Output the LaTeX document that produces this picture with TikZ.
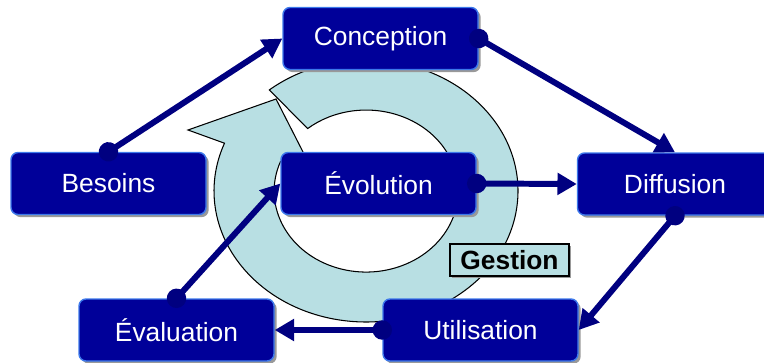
\documentclass[tikz,border=0pt]{standalone}
\usepackage{fontspec}
\setmainfont{Liberation Sans}
\usetikzlibrary{arrows.meta,shadows}

\definecolor{boite}{RGB}{0,0,153}
\definecolor{bord}{RGB}{60,120,235}
\definecolor{marine}{RGB}{0,0,128}
\definecolor{anneau}{RGB}{184,223,227}

\tikzset{
  etape/.style={rectangle, rounded corners=4pt, fill=boite, draw=bord, line width=0.8pt,
    minimum width=3.9cm, minimum height=1.24cm, inner sep=0pt, text=white,
    font=\fontsize{15pt}{18pt}\selectfont,
    drop shadow={shadow xshift=1.5pt, shadow yshift=-1.5pt, fill=black!40, opacity=1}},
  fleche/.style={draw=marine, line width=3.4pt, shorten <=-5.5pt,
    {Circle[length=11pt]}-{Triangle[length=11pt,width=12pt]}},
  gestion/.style={rectangle, fill=anneau, draw=black, line width=0.7pt,
    minimum width=2.38cm, minimum height=0.64cm, inner sep=0pt,
    font=\fontsize{15pt}{18pt}\selectfont\bfseries,
    drop shadow={shadow xshift=1pt, shadow yshift=-1pt, fill=black!40, opacity=1}}
}

\begin{document}
\begin{tikzpicture}
\useasboundingbox (0,0) rectangle (15.28,7.24);

% anneau de gestion
\draw[fill=anneau, draw=black, line width=0.6pt] (7.32,3.42) ++(129.5:3.04 and 2.62)
  arc[start angle=129.5, end angle=-201.4, x radius=3.04cm, y radius=2.62cm]
  -- (3.76,4.64) -- (5.52,5.26) -- (6.32,3.69) -- (5.61,4.01)
  arc[start angle=-201.4, end angle=129.5, x radius=1.84cm, y radius=1.62cm] -- cycle;

\foreach \n/\p/\t in {con/{7.61,6.47}/Conception, bes/{2.17,3.57}/Besoins,
    evo/{7.57,3.57}/Évolution, dif/{13.50,3.56}/Diffusion,
    eva/{3.53,0.64}/Évaluation, uti/{9.61,0.64}/Utilisation}
  \node[etape] (\n) at (\p) {\t};

\node[gestion] (ges) at (10.19,2.04) {Gestion};

\foreach \a/\b in {bes.north/con.west, con.east/dif.north, evo.east/dif.west,
    dif.south/uti.east, uti.west/eva.east, eva.north/evo.west}
  \draw[fleche] (\a) -- (\b);
\end{tikzpicture}
\end{document}
